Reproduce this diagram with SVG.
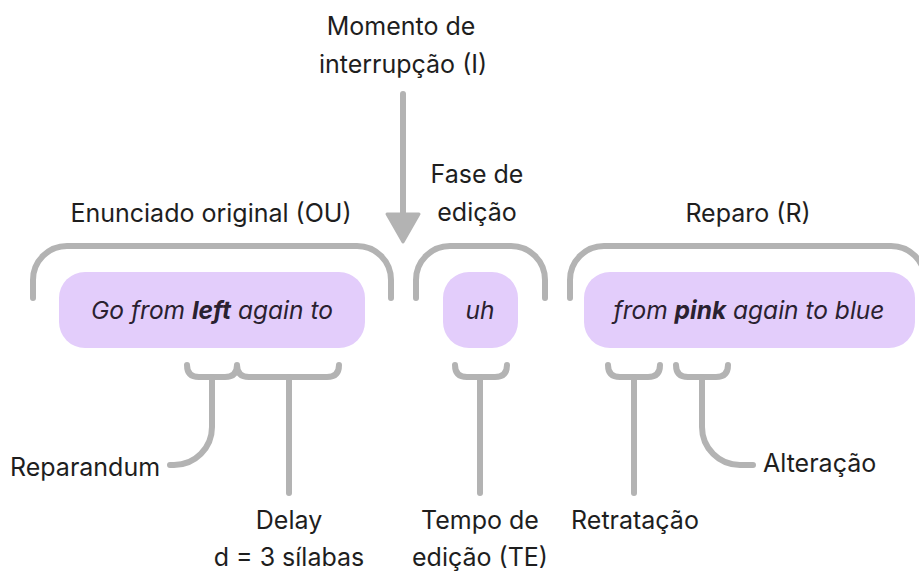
<svg xmlns="http://www.w3.org/2000/svg" width="919" height="571" viewBox="0 0 919 571">
<style>
.lbl{font-family:Inter,"Noto Sans","Liberation Sans",sans-serif;font-size:25px;fill:#1e1e1e;text-anchor:middle}
.st{text-anchor:start}
.box{fill:#e3cdfb}
.bt{font-family:Inter,"Noto Sans","Liberation Sans",sans-serif;font-size:24.5px;font-style:italic;fill:#2a2130;text-anchor:middle}
.br{fill:none;stroke:#b3b3b3;stroke-width:6;stroke-linecap:round;stroke-linejoin:round}
</style>
<rect width="919" height="571" fill="#ffffff"/>

<g id="connectors">
  <path class="br" d="M403,94 L403,214"/>
  <path d="M387,214 L419,214 L403,242 Z" fill="#b3b3b3" stroke="#b3b3b3" stroke-width="3" stroke-linejoin="round"/>
  <path class="br" d="M33,298 L33,280 A34,34 0 0 1 67,246 L357,246 A34,34 0 0 1 391,280 L391,298"/>
  <path class="br" d="M416,298 L416,280 A34,34 0 0 1 450,246 L511,246 A34,34 0 0 1 545,280 L545,298"/>
  <path class="br" d="M570,298 L570,280 A34,34 0 0 1 604,246 L891,246 A34,34 0 0 1 925,280 L925,298"/>
  <path class="br" d="M187,365 Q187,377 199,377 L225,377 Q237,377 237,365 Q237,377 249,377 L327,377 Q339,377 339,365"/>
  <path class="br" d="M212,377 L212,427 A38,38 0 0 1 174,465 L170,465"/>
  <path class="br" d="M289,377 L289,493"/>
  <path class="br" d="M455,365 Q455,377 467,377 L495,377 Q507,377 507,365"/>
  <path class="br" d="M480,377 L480,493"/>
  <path class="br" d="M608,365 Q608,377 620,377 L648,377 Q660,377 660,365"/>
  <path class="br" d="M634,377 L634,493"/>
  <path class="br" d="M676,365 Q676,377 688,377 L716,377 Q728,377 728,365"/>
  <path class="br" d="M702,377 L702,427 A38,38 0 0 0 740,465 L753,465"/>
</g>

<g id="interrupcao">
  <text class="lbl" x="401" y="35">Momento de</text>
  <text class="lbl" x="403" y="73">interrupção (I)</text>
</g>
<g id="ou-label"><text class="lbl" x="211" y="222">Enunciado original (OU)</text></g>
<g id="fase-label">
  <text class="lbl" x="477" y="183">Fase de</text>
  <text class="lbl" x="477" y="221">edição</text>
</g>
<g id="r-label"><text class="lbl" x="748" y="222">Reparo (R)</text></g>

<g id="ou">
  <rect class="box" x="59" y="272" width="306" height="76" rx="26"/>
  <text class="bt" x="212" y="319">Go from <tspan font-weight="bold">left</tspan> again to</text>
</g>
<g id="uh">
  <rect class="box" x="443" y="272" width="75" height="76" rx="26"/>
  <text class="bt" x="480" y="319">uh</text>
</g>
<g id="r">
  <rect class="box" x="584" y="272" width="331" height="76" rx="26"/>
  <text class="bt" x="749" y="319">from <tspan font-weight="bold">pink</tspan> again to blue</text>
</g>

<g id="reparandum"><text class="lbl st" x="10" y="476">Reparandum</text></g>
<g id="delay">
  <text class="lbl" x="289" y="529">Delay</text>
  <text class="lbl" x="289" y="566">d = 3 sílabas</text>
</g>
<g id="te">
  <text class="lbl" x="480" y="529">Tempo de</text>
  <text class="lbl" x="480" y="566">edição (TE)</text>
</g>
<g id="retratacao"><text class="lbl" x="635" y="529">Retratação</text></g>
<g id="alteracao"><text class="lbl st" x="763" y="472">Alteração</text></g>
</svg>
